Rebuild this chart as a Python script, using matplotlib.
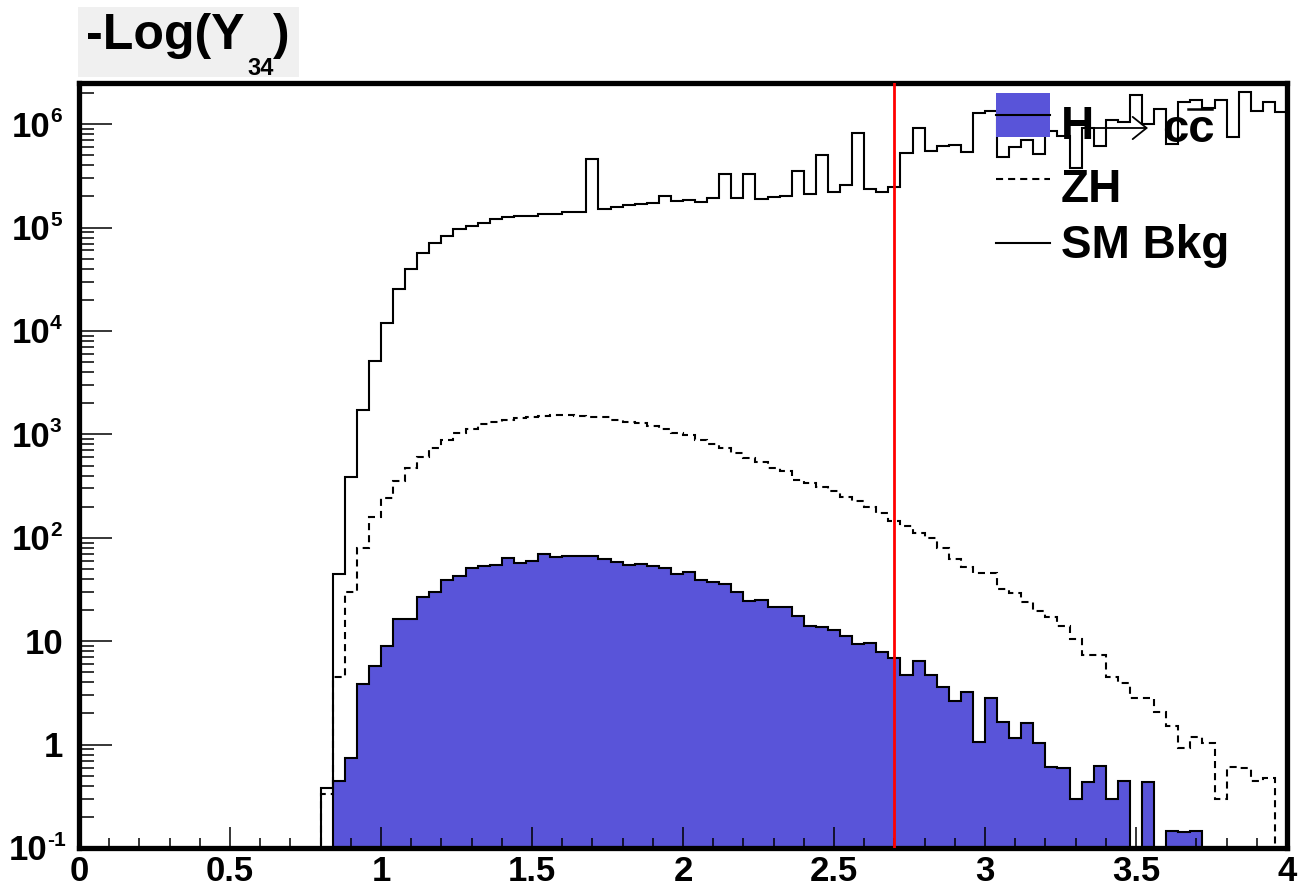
import numpy as np
import matplotlib
matplotlib.use('Agg')
import matplotlib.pyplot as plt
from matplotlib.ticker import MultipleLocator, LogLocator, NullFormatter, FixedLocator, FixedFormatter
from matplotlib.patches import Rectangle, FancyArrowPatch
from matplotlib.lines import Line2D

# binning of -Log(Y34)
x_min, x_max, n_bins = 0.0, 4.0, 100
cut_value = 2.7

# H -> cc signal (filled)
hcc = [0] * 21 + [
    0.445, 0.75, 3.83, 5.8, 9.0, 16.3, 16.5, 26.9, 29.7,            # 21-29
    39, 42.7, 51, 53, 55, 64, 57, 60, 70, 65,                       # 30-39
    66, 66.5, 66, 63, 58, 55, 55.8, 53.7, 51.4, 44.7,               # 40-49
    47, 39, 37.1, 35.8, 29.7, 24.7, 25, 21.3, 21.6, 17.7,           # 50-59
    14, 13.8, 12.8, 11.3, 9.3, 9.5, 7.8, 6.9, 4.7, 6.5,             # 60-69
    4.7, 3.6, 2.66, 3.2, 1.07, 2.85, 1.67, 1.17, 1.61, 1.04,        # 70-79
    0.61, 0.59, 0.30, 0.43, 0.62, 0.30, 0.44, 0, 0.43, 0,           # 80-89
    0.146, 0.142, 0.146, 0, 0, 0, 0, 0, 0, 0,                       # 90-99
]

# ZH (dashed)
zh = [0] * 20 + [
    0.33, 4.5, 30, 79, 158, 244, 354, 470, 610, 745,                # 20-29
    884, 1025, 1120, 1253, 1330, 1378, 1430, 1485, 1518, 1540,      # 30-39
    1540, 1518, 1485, 1462, 1378, 1330, 1280, 1213, 1120, 1025,     # 40-49
    987, 884, 807, 745, 656, 587, 537, 477, 446, 362,               # 50-59
    336, 312, 285, 246, 225, 200, 175, 145, 130, 112,               # 60-69
    100, 80, 63, 52, 46, 46, 31.8, 29.5, 24, 19.7,                  # 70-79
    17.3, 14, 10.6, 7.4, 7.4, 4.5, 3.9, 2.8, 2.8, 2.08,             # 80-89
    1.51, 0.92, 1.19, 1.04, 0.30, 0.61, 0.59, 0.44, 0.48, 0,        # 90-99
]

# SM background (solid)
bkg = [0] * 20 + [
    0.38, 45, 390, 1720, 5130, 11900, 25500, 39800, 56400, 71000,                   # 20-29
    83500, 96900, 104000, 111000, 120000, 127000, 130000, 130000, 135000, 135000,   # 30-39
    142000, 140000, 457000, 150000, 159000, 164000, 169000, 174000, 204000, 181000, # 40-49
    184000, 178000, 192000, 332000, 195000, 332000, 190000, 199000, 204000, 352000, # 50-59
    210000, 504000, 222000, 256000, 820000, 236000, 219000, 249000, 530000, 910000, # 60-69
    550000, 620000, 630000, 540000, 1290000, 1340000, 485000, 605000, 710000, 520000,     # 70-79
    850000, 760000, 375000, 910000, 620000, 1100000, 1040000, 1910000, 1000000, 1390000,  # 80-89
    640000, 1650000, 1710000, 1430000, 1710000, 750000, 2040000, 1350000, 1650000, 1320000,  # 90-99
]

x_ticks = [0, 0.5, 1, 1.5, 2, 2.5, 3, 3.5, 4]
x_tick_labels = ['0', '0.5', '1', '1.5', '2', '2.5', '3', '3.5', '4']
y_ticks = [0.1, 1, 10, 100, 1e3, 1e4, 1e5, 1e6]
y_tick_base = ['10', '1', '10', '10', '10', '10', '10', '10']
y_tick_exp = ['-1', '', '', '2', '3', '4', '5', '6']

W, H = 1303, 892
plt.rcParams['font.family'] = ['Liberation Sans', 'DejaVu Sans']
plt.rcParams['font.weight'] = 'bold'


def fxy(px, py):
    return px / W, 1 - py / H


fig = plt.figure(figsize=(W / 100, H / 100), dpi=100)
ax = fig.add_axes([79 / W, 1 - 848 / H, (1287 - 79) / W, (848 - 83) / H])

edges = np.linspace(x_min, x_max, n_bins + 1)
floor = 1e-3


def clean(v):
    v = np.asarray(v, dtype=float)
    return np.where(v > 0, v, floor)


sig_color = '#5954d9'
dash = (0, (3.4, 2.4))
ax.stairs(clean(hcc), edges, baseline=floor, fill=True, color=sig_color, lw=0, zorder=1)
ax.stairs(clean(hcc), edges, baseline=None, color='black', lw=1.5, zorder=2)
ax.stairs(clean(zh), edges, baseline=None, color='black', lw=1.5, linestyle=dash, zorder=2)
ax.stairs(clean(bkg), edges, baseline=None, color='black', lw=1.5, zorder=2)
ax.axvline(cut_value, color='red', lw=2, zorder=3)

ax.set_yscale('log')
ax.set_xlim(x_min, x_max)
ax.set_ylim(0.1, 2.5e6)

for s in ax.spines.values():
    s.set_linewidth(3.8)

ax.xaxis.set_major_locator(FixedLocator(x_ticks))
ax.xaxis.set_major_formatter(FixedFormatter(x_tick_labels))
ax.xaxis.set_minor_locator(MultipleLocator(0.1))
ax.tick_params(axis='x', which='major', direction='in', length=15, width=1.1,
               top=False, labelsize=25, pad=5)
ax.tick_params(axis='x', which='minor', direction='in', length=7, width=1.1, top=False)
for lab in ax.get_xticklabels():
    lab.set_fontweight('bold')

ax.yaxis.set_major_locator(FixedLocator(y_ticks))
ax.yaxis.set_major_formatter(NullFormatter())
ax.yaxis.set_minor_locator(LogLocator(base=10, subs=np.arange(2, 10), numticks=20))
ax.yaxis.set_minor_formatter(NullFormatter())
ax.tick_params(axis='y', which='major', direction='in', length=24, width=1.1, right=False)
ax.tick_params(axis='y', which='minor', direction='in', length=11, width=1.1, right=False)

# y tick labels drawn as "10" + exponent, ROOT style
for v, b, e in zip(y_ticks, y_tick_base, y_tick_exp):
    if e:
        xo = -32 if e.startswith('-') else -29
        ax.annotate(b, xy=(0, v), xycoords=('axes fraction', 'data'),
                    xytext=(xo * 0.72, -12.5 * 0.72), textcoords='offset points',
                    ha='right', va='baseline', fontsize=25, fontweight='bold',
                    annotation_clip=False)
        ax.annotate(e, xy=(0, v), xycoords=('axes fraction', 'data'),
                    xytext=(xo * 0.72, 2 * 0.72), textcoords='offset points',
                    ha='left', va='baseline', fontsize=15, fontweight='bold',
                    annotation_clip=False)
    else:
        ax.annotate(b, xy=(0, v), xycoords=('axes fraction', 'data'),
                    xytext=(-16 * 0.72, -12.5 * 0.72), textcoords='offset points',
                    ha='right', va='baseline', fontsize=25, fontweight='bold',
                    annotation_clip=False)

# title box
x0, y1 = fxy(78, 77)
x1, y0 = fxy(299, 7)
fig.patches.append(Rectangle((x0, y1), x1 - x0, y0 - y1, transform=fig.transFigure,
                             facecolor='#f0f0f0', edgecolor='none', zorder=0))
fig.text(*fxy(86, 49), '-Log(Y', fontsize=36, fontweight='bold', ha='left', va='baseline')
fig.text(*fxy(247, 75), '34', fontsize=17, fontweight='bold', ha='left', va='baseline')
fig.text(*fxy(273, 49), ')', fontsize=36, fontweight='bold', ha='left', va='baseline')

# legend
lx0, lx1 = 996, 1050
bx0, by1 = fxy(lx0, 137)
bx1, by0 = fxy(lx1, 93)
fig.patches.append(Rectangle((bx0, by1), bx1 - bx0, by0 - by1, transform=fig.transFigure,
                             facecolor=sig_color, edgecolor='none', zorder=5))
for py, ls in [(115, '-'), (179, dash), (243, '-')]:
    xa, ya = fxy(lx0, py)
    xb, _ = fxy(lx1, py)
    fig.add_artist(Line2D([xa, xb], [ya, ya], transform=fig.transFigure, color='black',
                          lw=1.5, linestyle=ls, zorder=6))

fs_leg = 33
fig.text(*fxy(1061, 139), 'H', fontsize=fs_leg, fontweight='bold', ha='left', va='baseline', zorder=6)
fig.add_artist(FancyArrowPatch(fxy(1093, 128), fxy(1148, 128), transform=fig.transFigure,
                               arrowstyle='->,head_length=10,head_width=8', lw=1.3,
                               color='black', zorder=6, shrinkA=0, shrinkB=0))
fig.text(*fxy(1162, 142), 'cc', fontsize=fs_leg + 1, fontweight='bold', ha='left', va='baseline', zorder=6)
xa, ya = fxy(1188, 109)
xb, _ = fxy(1212, 109)
fig.add_artist(Line2D([xa, xb], [ya, ya], transform=fig.transFigure, color='black', lw=1.8, zorder=7))
fig.text(*fxy(1061, 202), 'ZH', fontsize=fs_leg, fontweight='bold', ha='left', va='baseline', zorder=6)
fig.text(*fxy(1061, 258), 'SM Bkg', fontsize=fs_leg, fontweight='bold', ha='left', va='baseline', zorder=6)

fig.savefig('out.png', dpi=100)
